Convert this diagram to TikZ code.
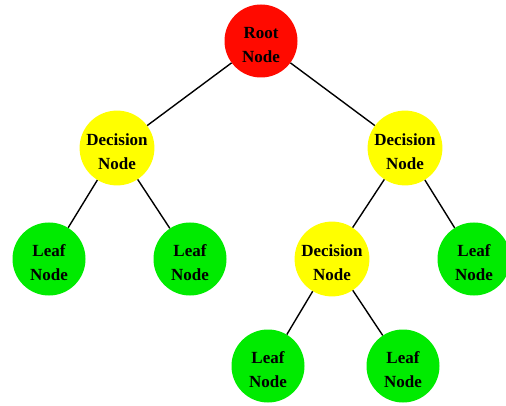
\documentclass[tikz,border=0pt]{standalone}
\usepackage{fontspec}
\setmainfont{Liberation Serif}
\usetikzlibrary{positioning}
\definecolor{rootred}{RGB}{255,10,0}
\definecolor{decyellow}{RGB}{255,255,0}
\definecolor{leafgreen}{RGB}{0,235,0}
\newcommand{\twolines}[2]{\rule{0pt}{19pt}#1\\#2}

\begin{document}
\begin{tikzpicture}[x=1pt,y=-1pt]
\tikzstyle{every node}=[font=\fontsize{17}{24}\selectfont\bfseries,align=center]
\tikzstyle{treenode}=[circle,minimum size=73pt,inner sep=0pt]
\tikzstyle{rootnode}=[treenode,fill=rootred]
\tikzstyle{decnode}=[treenode,fill=decyellow]
\tikzstyle{leafnode}=[treenode,fill=leafgreen]
\tikzstyle{edge}=[line width=1.4pt,black]
\useasboundingbox (0,0) rectangle (506,406);
%root
\node[rootnode] (root) at (261,41) {\twolines{Root}{Node}};
%first level
\node[decnode] (decL) at (117,148) {\twolines{Decision}{Node}};
\node[decnode] (decR) at (405,148) {\twolines{Decision}{Node}};
%second level
\node[leafnode] (leafLL) at (49,259) {\twolines{Leaf}{Node}};
\node[leafnode] (leafLR) at (190,259) {\twolines{Leaf}{Node}};
\node[decnode] (decRL) at (332,259) {\twolines{Decision}{Node}};
\node[leafnode] (leafRR) at (474,259) {\twolines{Leaf}{Node}};
%third level
\node[leafnode] (leafRLL) at (268,366) {\twolines{Leaf}{Node}};
\node[leafnode] (leafRLR) at (403,366) {\twolines{Leaf}{Node}};
% edges
\draw[edge] (root)--(decL); \draw[edge] (root)--(decR);
\draw[edge] (decL)--(leafLL); \draw[edge] (decL)--(leafLR);
\draw[edge] (decR)--(decRL); \draw[edge] (decR)--(leafRR);
\draw[edge] (decRL)--(leafRLL); \draw[edge] (decRL)--(leafRLR);
\end{tikzpicture}
\end{document}
